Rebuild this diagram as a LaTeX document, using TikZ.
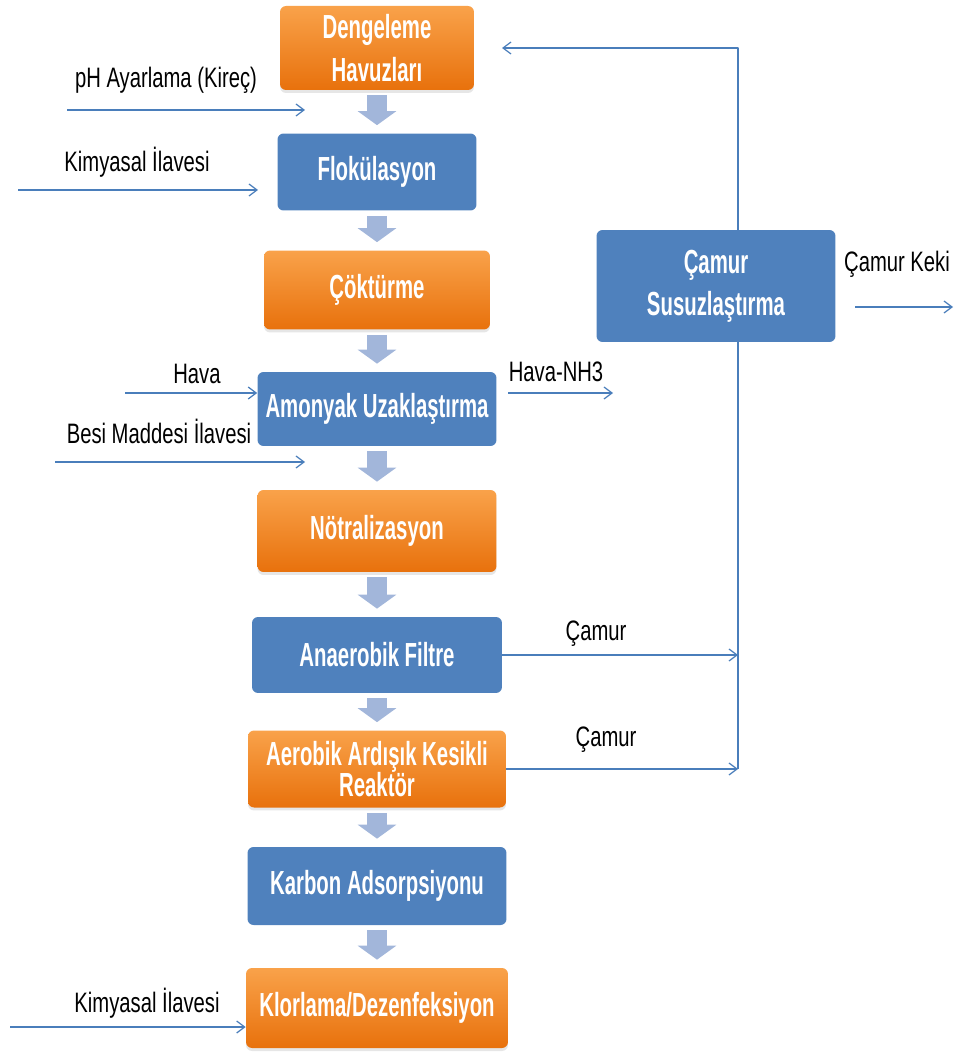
\documentclass[tikz,border=0pt]{standalone}
\usepackage{fontspec}
\setmainfont{Liberation Sans}
\newfontfamily\lblfont[FakeStretch=0.72]{Liberation Sans}
\newfontfamily\boxfont[FakeStretch=0.61]{Liberation Sans}
\usetikzlibrary{arrows.meta,shadows}
\definecolor{turuncuust}{HTML}{F9A24A}
\definecolor{turuncualt}{HTML}{E8710C}
\definecolor{kutumavi}{HTML}{4F81BD}
\definecolor{okmavi}{HTML}{A2B6DA}
\definecolor{cizgimavi}{HTML}{4A7EBB}

\begin{document}
\begin{tikzpicture}[x=0.02cm,y=-0.02cm,line join=round,
		kutu/.style={rounded corners=0.12cm,text=white,align=center,inner sep=0pt,
			font=\boxfont\bfseries\fontsize{19}{23}\selectfont},
		turuncu/.style={kutu,top color=turuncuust,bottom color=turuncualt,
			drop shadow={opacity=0.2,shadow xshift=0pt,shadow yshift=-0.06cm}},
		mavi/.style={kutu,fill=kutumavi},
		blok/.style={draw=okmavi,line width=0.4cm,-{Triangle[length=0.28cm,width=0.76cm]},
			shorten <=0.1cm,shorten >=0.16cm},
		ince/.style={draw=cizgimavi,line width=0.7pt,-{Straight Barb[length=0.16cm,width=0.24cm]}},
		cizgi/.style={draw=cizgimavi,line width=0.7pt},
		etiket/.style={font=\lblfont\fontsize{16}{19}\selectfont,inner sep=0pt}]
	\useasboundingbox (0,0) rectangle (954,1053);
	% ana hat
	\node[turuncu,minimum width=3.88cm,minimum height=1.68cm] (deng) at (377,48) {Dengeleme\\[1pt]Havuzları};
	\node[mavi,minimum width=3.98cm,minimum height=1.54cm] (flok) at (377,172) {Flokülasyon};
	\node[turuncu,minimum width=4.52cm,minimum height=1.58cm] (cokt) at (377,290) {Çöktürme};
	\node[mavi,minimum width=4.78cm,minimum height=1.48cm] (amon) at (377,409) {Amonyak Uzaklaştırma};
	\node[turuncu,minimum width=4.78cm,minimum height=1.64cm] (notr) at (377,531) {Nötralizasyon};
	\node[mavi,minimum width=5.0cm,minimum height=1.52cm] (anae) at (377,655) {Anaerobik Filtre};
	\node[turuncu,minimum width=5.16cm,minimum height=1.54cm] (aero) at (377,769) {Aerobik Ardışık Kesikli\\[-5pt]Reaktör};
	\node[mavi,minimum width=5.18cm,minimum height=1.56cm] (karb) at (377,886) {Karbon Adsorpsiyonu};
	\node[turuncu,minimum width=5.24cm,minimum height=1.60cm] (klor) at (377,1008) {Klorlama/Dezenfeksiyon};
	\node[mavi,minimum width=4.78cm,minimum height=2.24cm] (cmr) at (716,286) {Çamur\\[1pt]Susuzlaştırma};
	\foreach \a/\b in {deng/flok,flok/cokt,cokt/amon,amon/notr,notr/anae,anae/aero,aero/karb,karb/klor}
		\draw[blok] (\a) -- (\b);
	% girdiler
	\coordinate (ph-bas) at (67,110);
	\coordinate (ph-son) at (305,110);
	\draw[ince] (ph-bas) -- (ph-son);
	\node[etiket] (ph) at (166,80) {pH Ayarlama (Kireç)};
	\coordinate (kim1-bas) at (18,190);
	\coordinate (kim1-son) at (258,190);
	\draw[ince] (kim1-bas) -- (kim1-son);
	\node[etiket] (kim1) at (137,162) {Kimyasal İlavesi};
	\coordinate (hava-bas) at (125,393);
	\draw[ince] (hava-bas) -- (hava-bas -| amon.west);
	\node[etiket] (hava) at (197,374) {Hava};
	\coordinate (besi-bas) at (55,462);
	\coordinate (besi-son) at (305,462);
	\draw[ince] (besi-bas) -- (besi-son);
	\node[etiket] (besi) at (159,431) {Besi Maddesi İlavesi};
	\coordinate (kim2-bas) at (10,1027);
	\draw[ince] (kim2-bas) -- (kim2-bas -| klor.west);
	\node[etiket] (kim2) at (147,1003) {Kimyasal İlavesi};
	% ciktilar
	\coordinate (nh3-bas) at (508,393);
	\coordinate (nh3-son) at (613,393);
	\draw[ince] (nh3-bas) -- (nh3-son);
	\node[etiket] (nh3) at (556,372) {Hava-NH3};
	\coordinate (keki-bas) at (855,307);
	\coordinate (keki-son) at (953,307);
	\draw[ince] (keki-bas) -- (keki-son);
	\node[etiket] (keki) at (897,264) {Çamur Keki};
	% camur hatti
	\coordinate (don-ust) at (738,48);
	\coordinate (don-son) at (502,48);
	\draw[ince] (cmr.north -| don-ust) -- (don-ust) -- (don-son);
	\draw[cizgi] (cmr.south -| don-ust) -- (aero.east -| don-ust);
	\draw[ince] (anae.east) -- (anae.east -| don-ust);
	\draw[ince] (aero.east) -- (aero.east -| don-ust);
	\node[etiket] (cmr1) at (596,634) {Çamur};
	\node[etiket] (cmr2) at (606,740) {Çamur};
\end{tikzpicture}
\end{document}
